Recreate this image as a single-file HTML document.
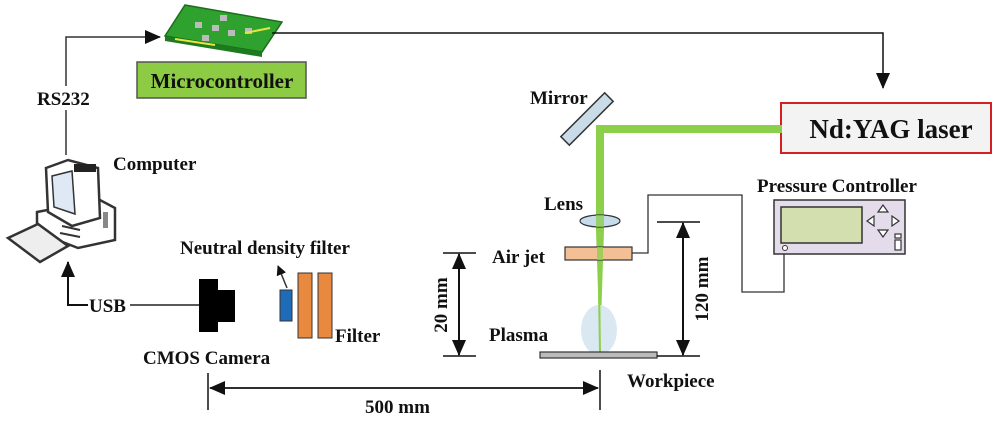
<!DOCTYPE html>
<html><head><meta charset="utf-8"><style>
html,body{margin:0;padding:0;background:#fff;}
svg{display:block;}
text{font-family:"Liberation Serif",serif;font-weight:bold;fill:#111;}
</style></head><body>
<svg width="1000" height="421" viewBox="0 0 1000 421" xmlns="http://www.w3.org/2000/svg">
<defs>
<marker id="ah" markerWidth="10" markerHeight="10" refX="9" refY="5" orient="auto" markerUnits="userSpaceOnUse"><path d="M0,0 L10,5 L0,10 z" fill="#111"/></marker>
<marker id="ah2" markerWidth="16" markerHeight="14" refX="15" refY="7" orient="auto" markerUnits="userSpaceOnUse"><path d="M0,0 L16,7 L0,14 z" fill="#111"/></marker>
</defs>
<!-- RS232 line -->
<polyline points="66,155 66,37 160,37" fill="none" stroke="#333" stroke-width="1.5" marker-end="url(#ah2)"/>
<rect x="36" y="86" width="60" height="24" fill="#fff"/>
<text x="37" y="105" font-size="19">RS232</text>
<!-- PCB -->
<polygon points="185,5 282,22 262,52 165,36" fill="#2fa12f" stroke="#1c6e1c" stroke-width="1.5"/>
<polygon points="165,36 262,52 262,57 165,41" fill="#1d7a1d"/>
<g fill="#bbb"><rect x="195" y="22" width="7" height="6"/><rect x="212" y="25" width="7" height="6"/><rect x="228" y="30" width="7" height="6"/><rect x="245" y="28" width="7" height="6"/><rect x="202" y="35" width="7" height="6"/><rect x="220" y="15" width="7" height="6"/></g>
<line x1="175" y1="39" x2="215" y2="45" stroke="#e6e642" stroke-width="2"/>
<line x1="245" y1="33" x2="270" y2="28" stroke="#e6e642" stroke-width="2"/>
<rect x="137" y="62" width="169" height="36" fill="#8dcb45" stroke="#555" stroke-width="1.5"/>
<text x="222" y="88" font-size="21" text-anchor="middle">Microcontroller</text>
<!-- line to laser -->
<polyline points="272,33 883,33 883,88" fill="none" stroke="#111" stroke-width="1.5" marker-end="url(#ah2)"/>
<!-- Laser -->
<rect x="781" y="103" width="210" height="50" fill="#f3f3f3" stroke="#d42020" stroke-width="2"/>
<text x="891" y="138" font-size="27" text-anchor="middle">Nd:YAG laser</text>
<!-- Computer -->
<text x="113" y="170" font-size="19">Computer</text>
<polygon points="37,212 100,200 115,208 115,240 78,248 37,232" fill="#fff" stroke="#333" stroke-width="2.5"/>
<rect x="103" y="212" width="5" height="16" fill="#888"/>
<polygon points="46,168 68,160 98,168 100,218 72,226 48,212" fill="#fff" stroke="#333" stroke-width="2.5"/>
<polygon points="52,176 72,171 75,214 54,207" fill="#dfe8f5" stroke="#333" stroke-width="1.5"/>
<rect x="74" y="164" width="22" height="8" fill="#222"/>
<line x1="62" y1="226" x2="80" y2="230" stroke="#333" stroke-width="2"/>
<line x1="60" y1="233" x2="80" y2="237" stroke="#333" stroke-width="2"/>
<polygon points="8,238 38,224 68,246 40,262" fill="#eee" stroke="#333" stroke-width="2.5"/>
<!-- USB -->
<polyline points="88,305 68,305 68,262" fill="none" stroke="#111" stroke-width="2" marker-end="url(#ah2)"/>
<text x="89" y="312" font-size="19">USB</text>
<line x1="130" y1="305" x2="200" y2="305" stroke="#222" stroke-width="1.5"/>
<!-- camera -->
<rect x="199" y="279" width="19" height="53" fill="#000"/>
<rect x="218" y="290" width="17" height="32" fill="#000"/>
<text x="143" y="364" font-size="19">CMOS Camera</text>
<!-- filters -->
<text x="180" y="254" font-size="19">Neutral density filter</text>
<line x1="287" y1="288" x2="278" y2="266" stroke="#333" stroke-width="1.5" marker-end="url(#ah)"/>
<rect x="280" y="290" width="12" height="31" fill="#1e6bb8" stroke="#333"/>
<rect x="298" y="273" width="14" height="65" fill="#e8893f" stroke="#333"/>
<rect x="318" y="273" width="14" height="65" fill="#e8893f" stroke="#333"/>
<text x="335" y="342" font-size="19">Filter</text>
<!-- 500mm -->
<line x1="208" y1="373" x2="208" y2="410" stroke="#111" stroke-width="1.5"/>
<line x1="600" y1="370" x2="600" y2="410" stroke="#111" stroke-width="1.5"/>
<line x1="210" y1="388" x2="598" y2="388" stroke="#111" stroke-width="1.5" marker-end="url(#ah2)"/>
<line x1="598" y1="388" x2="210" y2="388" stroke="#111" stroke-width="1.5" marker-end="url(#ah2)"/>
<text x="365" y="413" font-size="19">500 mm</text>
<!-- mirror -->
<text x="530" y="104" font-size="19">Mirror</text>
<rect x="556" y="113" width="62" height="12" fill="#c9dbe6" stroke="#333" stroke-width="1.5" transform="rotate(-45 587 119)"/>
<!-- beam -->
<rect x="596" y="125" width="186" height="8" fill="#8ccf4a"/>
<polygon points="596,125 604,125 604,230 600,352 596,230" fill="#8ccf4a"/>
<!-- plasma -->
<ellipse cx="599" cy="330" rx="18" ry="25" fill="#d6e6ef" opacity="0.9"/>
<line x1="599" y1="290" x2="600" y2="352" stroke="#8ccf4a" stroke-width="2"/>
<!-- lens -->
<text x="544" y="210" font-size="19">Lens</text>
<ellipse cx="600" cy="221" rx="20" ry="6" fill="#b9d3e6" stroke="#333" stroke-width="1.2" fill-opacity="0.8"/>
<rect x="596" y="215" width="8" height="12" fill="#8ccf4a" opacity="0.7"/>
<!-- air jet -->
<text x="492" y="263" font-size="19">Air jet</text>
<rect x="565" y="247" width="67" height="13" fill="#f3c096" stroke="#333" stroke-width="1.2"/>
<rect x="597" y="247" width="6" height="13" fill="#8ccf4a" opacity="0.8"/>
<polyline points="632,253 648,253 648,195 742,195 742,292 784,292 784,251" fill="none" stroke="#333" stroke-width="1.3"/>
<!-- pressure controller -->
<text x="757" y="192" font-size="19">Pressure Controller</text>
<rect x="774" y="200" width="131" height="54" fill="#e4dcea" stroke="#333" stroke-width="1.5"/>
<rect x="781" y="207" width="81" height="36" fill="#d4dfb0" stroke="#333" stroke-width="1.5"/>
<circle cx="785" cy="248" r="2.5" fill="#fff" stroke="#333"/>
<g fill="#fff" stroke="#333" stroke-width="1.2">
<polygon points="883,205 878,212 888,212"/><polygon points="883,237 878,230 888,230"/>
<polygon points="867,221 874,216 874,226"/><polygon points="899,221 892,216 892,226"/>
<rect x="895" y="234" width="6" height="4"/><rect x="895" y="240" width="6" height="10"/>
</g>
<!-- plasma label, workpiece -->
<text x="489" y="341" font-size="19">Plasma</text>
<rect x="540" y="352" width="117" height="6" fill="#bbb" stroke="#333" stroke-width="1.2"/>
<text x="627" y="387" font-size="19">Workpiece</text>
<!-- 120 mm -->
<line x1="657" y1="222" x2="700" y2="222" stroke="#111" stroke-width="1.5"/>
<line x1="657" y1="356" x2="700" y2="356" stroke="#111" stroke-width="1.5"/>
<line x1="683" y1="289" x2="683" y2="223" stroke="#111" stroke-width="2" marker-end="url(#ah2)"/>
<line x1="683" y1="289" x2="683" y2="355" stroke="#111" stroke-width="2" marker-end="url(#ah2)"/>
<text x="0" y="0" font-size="19" text-anchor="middle" transform="translate(708,289) rotate(-90)">120 mm</text>
<!-- 20 mm -->
<line x1="443" y1="253" x2="476" y2="253" stroke="#111" stroke-width="1.5"/>
<line x1="443" y1="356" x2="476" y2="356" stroke="#111" stroke-width="1.5"/>
<line x1="459" y1="305" x2="459" y2="254" stroke="#111" stroke-width="2" marker-end="url(#ah2)"/>
<line x1="459" y1="305" x2="459" y2="355" stroke="#111" stroke-width="2" marker-end="url(#ah2)"/>
<text x="0" y="0" font-size="19" text-anchor="middle" transform="translate(447,305) rotate(-90)">20 mm</text>
</svg>
</body></html>
